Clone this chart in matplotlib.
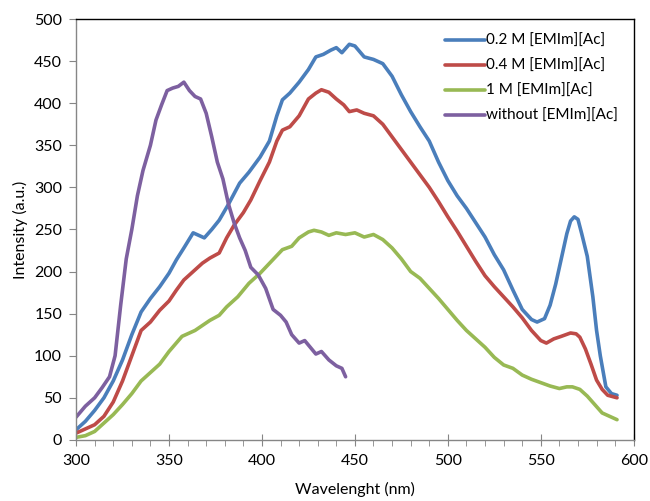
import matplotlib
matplotlib.use("Agg")
from matplotlib import pyplot as plt
from matplotlib.ticker import MultipleLocator

# Emission spectra (wavelength nm, intensity a.u.)
wl_02 = [300, 305, 310, 315, 320, 325, 330, 335, 340, 345, 350, 354, 358, 363, 366, 369, 373, 377,
         382, 388, 393, 399, 404, 408, 411, 415, 420, 425, 429, 433, 437, 440, 443, 447, 450, 455,
         460, 465, 470, 475, 480, 485, 490, 495, 500, 505, 510, 515, 520, 525, 530, 535, 540, 545,
         548, 552, 555, 558, 561, 564, 566, 568, 570, 572, 575, 578, 580, 582, 585, 588, 591]
int_02 = [12, 22, 35, 50, 70, 95, 125, 152, 168, 182, 198, 214, 228, 246, 243, 240, 250, 261,
          280, 305, 318, 336, 355, 385, 404, 412, 425, 440, 455, 458, 463, 466, 460, 470, 468, 455,
          452, 447, 432, 410, 390, 372, 355, 330, 308, 290, 275, 258, 241, 220, 202, 178, 155, 143,
          140, 144, 160, 185, 215, 245, 260, 265, 262, 245, 218, 170, 130, 100, 63, 55, 53]

wl_04 = [300, 305, 310, 315, 320, 325, 330, 335, 340, 345, 350, 354, 358, 363, 368, 372, 377, 381,
         385, 390, 394, 399, 404, 408, 411, 415, 420, 425, 429, 432, 436, 440, 444, 447, 451, 455,
         460, 465, 470, 475, 480, 485, 490, 495, 500, 505, 510, 515, 520, 525, 530, 535, 540, 545,
         550, 553, 557, 561, 566, 569, 571, 574, 577, 580, 583, 586, 591]
int_04 = [8, 13, 18, 28, 45, 70, 100, 130, 140, 154, 165, 178, 190, 200, 210, 216, 222, 240,
          255, 270, 285, 308, 330, 355, 368, 372, 385, 405, 412, 416, 413, 405, 398, 390, 392, 388,
          385, 375, 360, 345, 330, 315, 300, 283, 265, 248, 230, 212, 195, 182, 170, 158, 145, 130,
          118, 115, 120, 123, 127, 126, 122, 108, 90, 71, 60, 53, 50]

wl_1m = [300, 305, 310, 315, 320, 325, 330, 335, 340, 345, 350, 357, 364, 372, 377, 381, 387, 393,
         399, 405, 411, 416, 420, 425, 428, 432, 436, 440, 445, 450, 455, 460, 465, 470, 475, 480,
         485, 490, 495, 500, 505, 510, 515, 520, 525, 530, 535, 540, 545, 550, 555, 560, 564, 567,
         571, 575, 579, 583, 587, 591]
int_1m = [3, 5, 10, 20, 30, 42, 55, 70, 80, 90, 105, 123, 130, 142, 148, 158, 170, 186,
          198, 212, 226, 230, 240, 247, 249, 247, 243, 246, 244, 246, 241, 244, 238, 228, 215, 200,
          192, 180, 168, 155, 142, 130, 120, 110, 98, 89, 85, 77, 72, 68, 64, 61, 63, 63,
          60, 52, 42, 32, 28, 24]

wl_w = [300, 305, 310, 314, 318, 321, 324, 327, 330, 333, 336, 340, 343, 346, 349, 352, 355, 358,
        361, 364, 367, 370, 373, 376, 379, 382, 385, 388, 391, 394, 398, 402, 406, 410, 413, 416,
        420, 423, 426, 429, 432, 436, 440, 443, 445]
int_w = [27, 40, 50, 62, 75, 100, 160, 215, 250, 290, 320, 350, 380, 398, 415, 418, 420, 425,
         415, 408, 405, 388, 360, 330, 310, 280, 258, 240, 225, 205, 196, 180, 155, 148, 140, 125,
         115, 118, 110, 102, 105, 95, 88, 85, 75]

series = [
    (wl_02, int_02, "#4A7EBB", "0.2 M [EMIm][Ac]"),
    (wl_04, int_04, "#BE4B48", "0.4 M [EMIm][Ac]"),
    (wl_1m, int_1m, "#98B954", "1 M [EMIm][Ac]"),
    (wl_w, int_w, "#7D60A0", "without [EMIm][Ac]"),
]

plt.rcParams['font.family'] = ['Lato', 'DejaVu Sans']

fig = plt.figure(figsize=(6.5, 5.01), dpi=100)
ax = fig.add_axes([0.117, 0.122, 0.858, 0.84])

for x, y, c, lab in series:
    ax.plot(x, y, color=c, lw=2.6, label=lab, solid_joinstyle='round', solid_capstyle='round')

ax.set_xlim(300, 600)
ax.set_ylim(0, 500)
ax.xaxis.set_major_locator(MultipleLocator(50))
ax.xaxis.set_minor_locator(MultipleLocator(10))
ax.yaxis.set_major_locator(MultipleLocator(50))

for side in ['left', 'bottom']:
    ax.spines[side].set_color('#868686')
    ax.spines[side].set_linewidth(1.0)
for side in ['top', 'right']:
    ax.spines[side].set_color('black')
    ax.spines[side].set_linewidth(1.0)

ax.tick_params(axis='x', which='major', direction='inout', length=8, color='#868686',
               labelsize=11.5, pad=6, top=False)
ax.tick_params(axis='x', which='minor', direction='out', length=4, color='#868686', top=False)
ax.tick_params(axis='y', which='major', direction='out', length=5, color='#868686',
               labelsize=11.5, pad=5, right=False)

ax.set_xlabel("Wavelenght (nm)", fontsize=11.5, labelpad=10)
ax.set_ylabel("Intensity (a.u.)", fontsize=11.5, labelpad=4)

ax.legend(loc='upper right', bbox_to_anchor=(0.997, 0.997), frameon=False, fontsize=11,
          handlelength=2.6, handletextpad=0.1, labelspacing=0.72)

fig.savefig("out.png", dpi=100)
